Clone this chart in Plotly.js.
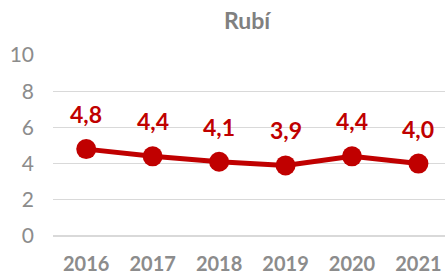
<!DOCTYPE html>
<html>
<head>
<meta charset="utf-8">
<script src="https://cdn.plot.ly/plotly-3.0.1.min.js"></script>
<style>html,body{margin:0;padding:0;background:#fff;}#chart{width:445px;height:274px;}</style>
</head>
<body>
<div id="chart"></div>
<script>
const years = ['2016', '2017', '2018', '2019', '2020', '2021'];
const values = [4.8, 4.4, 4.1, 3.9, 4.4, 4.0];
const labels = ['4,8', '4,4', '4,1', '3,9', '4,4', '4,0'];
const yTicks = [0, 2, 4, 6, 8, 10];

const red = '#C00000';
const trace = {
  x: years, y: values, type: 'scatter', mode: 'lines+markers',
  line: {color: red, width: 5},
  marker: {color: red, size: 20},
  hoverinfo: 'none'
};
const annotations = years.map((yr, i) => ({
  x: i, y: values[i], xref: 'x', yref: 'y', text: labels[i], showarrow: false,
  yshift: 35, font: {family: 'Lato', size: 23, color: red, weight: 'bold'}
}));
const layout = {
  width: 445, height: 274,
  margin: {l: 53, r: 0, t: 55, b: 38},
  paper_bgcolor: '#fff', plot_bgcolor: '#fff',
  font: {family: 'Lato', color: '#8c8c8c'},
  title: {text: '<b>Rubí</b>', x: 247/445, xref: 'container', xanchor: 'center', y: 1 - 21/274, yref: 'container', yanchor: 'middle',
          font: {family: 'Lato', size: 23, color: '#808080'}},
  showlegend: false,
  xaxis: {type: 'category', range: [-0.5, 5.4], showgrid: false, zeroline: false, showline: false,
          ticks: '', ticklabelstandoff: 14, tickfont: {family: 'Lato', size: 20, color: '#8c8c8c', weight: 'bold'}},
  yaxis: {range: [0, 10], tickvals: yTicks, ticktext: yTicks.map(String), showgrid: true, gridcolor: '#d9d9d9', gridwidth: 1,
          zeroline: true, zerolinecolor: '#d9d9d9', zerolinewidth: 1.5, showline: false, ticks: '', ticklabelstandoff: 18,
          tickfont: {family: 'Lato', size: 21, color: '#8c8c8c'}},
  annotations: annotations
};
Plotly.newPlot('chart', [trace], layout, {displayModeBar: false, staticPlot: true});
</script>
</body>
</html>
